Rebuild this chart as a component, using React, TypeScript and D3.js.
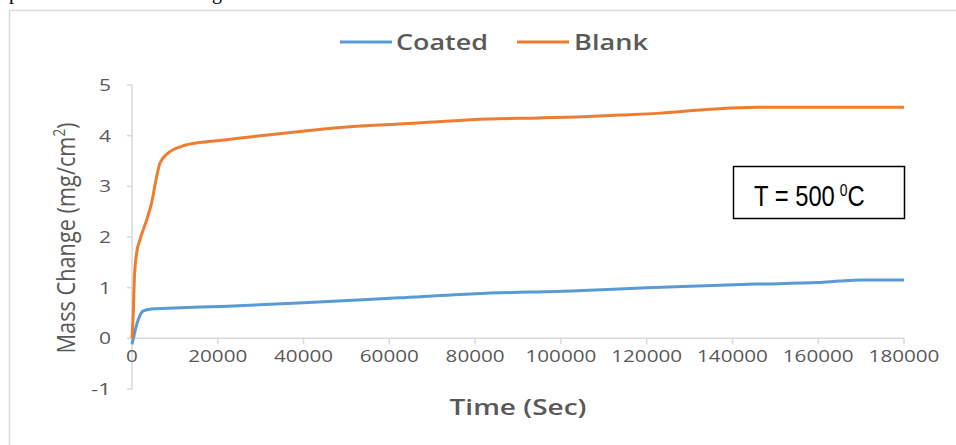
import React from "react";
import * as d3 from "d3";

// time (s) and mass change (mg/cm2)
const blankTime = [0, 300, 540, 1090, 1870, 3430, 4590, 5750, 6530, 8470, 11580, 16250, 20900, 30000, 41300, 50000, 62200, 70000, 83000, 95000, 103800, 115000, 122500, 135000, 145500, 160000, 180000];
const blankMass = [0, 0.5, 1.16, 1.69, 1.95, 2.34, 2.68, 3.19, 3.46, 3.66, 3.79, 3.87, 3.91, 4.0, 4.1, 4.17, 4.23, 4.27, 4.33, 4.35, 4.37, 4.41, 4.44, 4.52, 4.56, 4.56, 4.56];

const coatedTime = [0, 1470, 2630, 4590, 10000, 20900, 40000, 62200, 80000, 103800, 120000, 145500, 160000, 165000, 170000, 180000];
const coatedMass = [-0.12, 0.37, 0.54, 0.58, 0.6, 0.63, 0.7, 0.8, 0.88, 0.94, 1.0, 1.07, 1.1, 1.13, 1.15, 1.15];

const xTicks = [0, 20000, 40000, 60000, 80000, 100000, 120000, 140000, 160000, 180000];
const yTicks = [-1, 0, 1, 2, 3, 4, 5];

const seriesNames = ["Coated", "Blank"];
const seriesColors = ["#5B9BD5", "#ED7D31"];

const W = 956;
const H = 445;
const gray = "#595959";
const axisGray = "#D9D9D9";
const font = "'Open Sans', 'DejaVu Sans', sans-serif";

export default function App() {
  const x = d3.scaleLinear().domain([0, 180000]).range([132, 904]);
  const y = d3.scaleLinear().domain([-1, 5]).range([389, 85]);

  const line = d3
    .line<[number, number]>()
    .x((d) => x(d[0]))
    .y((d) => y(d[1]))
    .curve(d3.curveMonotoneX);

  const coated = coatedTime.map((t, i) => [t, coatedMass[i]] as [number, number]);
  const blank = blankTime.map((t, i) => [t, blankMass[i]] as [number, number]);

  return (
    <svg
      width={W}
      height={H}
      style={{ position: "absolute", left: 0, top: 0, display: "block", background: "#fff" }}
    >
      {/* bits of the document text above the figure */}
      <text x={9} y={-1} fontFamily="'Liberation Serif', serif" fontSize={20} fill="#000">p</text>
      <text x={212} y={-1} fontFamily="'Liberation Serif', serif" fontSize={20} fill="#000">g</text>

      {/* chart frame */}
      <rect x={9.5} y={10.5} width={W + 10} height={H + 10} fill="none" stroke={axisGray} strokeWidth={1.5} />

      {/* legend */}
      <g fontFamily={font} fontWeight={600} fontSize={21} fill={gray}>
        <line x1={340} x2={392} y1={42} y2={42} stroke={seriesColors[0]} strokeWidth={3} />
        <text x={396} y={50} textLength={92} lengthAdjust="spacingAndGlyphs">{seriesNames[0]}</text>
        <line x1={517} x2={569} y1={42} y2={42} stroke={seriesColors[1]} strokeWidth={3} />
        <text x={574} y={50} textLength={74} lengthAdjust="spacingAndGlyphs">{seriesNames[1]}</text>
      </g>

      {/* y axis */}
      <line x1={x(0)} x2={x(0)} y1={y(5)} y2={y(-1)} stroke={axisGray} strokeWidth={1.5} />
      {yTicks.map((t) => (
        <g key={"y" + t}>
          <line x1={x(0) - 5} x2={x(0)} y1={y(t)} y2={y(t)} stroke={axisGray} strokeWidth={1.5} />
          <text
            x={111}
            y={y(t) + 6}
            textAnchor="end"
            fontFamily={font}
            fontSize={16}
            fill={gray}
            textLength={t < 0 ? 20 : 12}
            lengthAdjust="spacingAndGlyphs"
          >
            {t}
          </text>
        </g>
      ))}

      {/* x axis */}
      <line x1={x(0)} x2={x(180000)} y1={y(0)} y2={y(0)} stroke={axisGray} strokeWidth={1.5} />
      {xTicks.map((t) => (
        <g key={"x" + t}>
          <line x1={x(t)} x2={x(t)} y1={y(0)} y2={y(0) + 6} stroke={axisGray} strokeWidth={1.5} />
          <text
            x={x(t)}
            y={y(0) + 24}
            textAnchor="middle"
            fontFamily={font}
            fontSize={16}
            fill={gray}
            textLength={String(t).length * 11.8}
            lengthAdjust="spacingAndGlyphs"
          >
            {t}
          </text>
        </g>
      ))}

      {/* series */}
      <path d={line(coated) || ""} fill="none" stroke={seriesColors[0]} strokeWidth={3} strokeLinejoin="round" />
      <path d={line(blank) || ""} fill="none" stroke={seriesColors[1]} strokeWidth={3} strokeLinejoin="round" />

      {/* axis titles */}
      <text
        x={518}
        y={415}
        textAnchor="middle"
        fontFamily={font}
        fontWeight={600}
        fontSize={21}
        fill={gray}
        textLength={137}
        lengthAdjust="spacingAndGlyphs"
      >
        Time (Sec)
      </text>
      <text
        transform="translate(75,238) rotate(-90)"
        textAnchor="middle"
        fontFamily={font}
        fontWeight={500}
        fontSize={26}
        fill={gray}
        textLength={231}
        lengthAdjust="spacingAndGlyphs"
      >
        Mass Change (mg/cm<tspan fontSize={16} dy={-10}>2</tspan>
        <tspan dy={10}>)</tspan>
      </text>

      {/* temperature note */}
      <rect x={733.5} y={166.5} width={171} height={52} fill="#fff" stroke="#000" strokeWidth={1.5} />
      <text
        transform="translate(754,206) scale(0.82,1)"
        fontFamily="'Liberation Sans', Arial, sans-serif"
        fontSize={29}
        fill="#000"
      >
        T = 500<tspan dx={6} dy={-10} fontSize={17}>0</tspan>
        <tspan dy={10}>C</tspan>
      </text>
    </svg>
  );
}
